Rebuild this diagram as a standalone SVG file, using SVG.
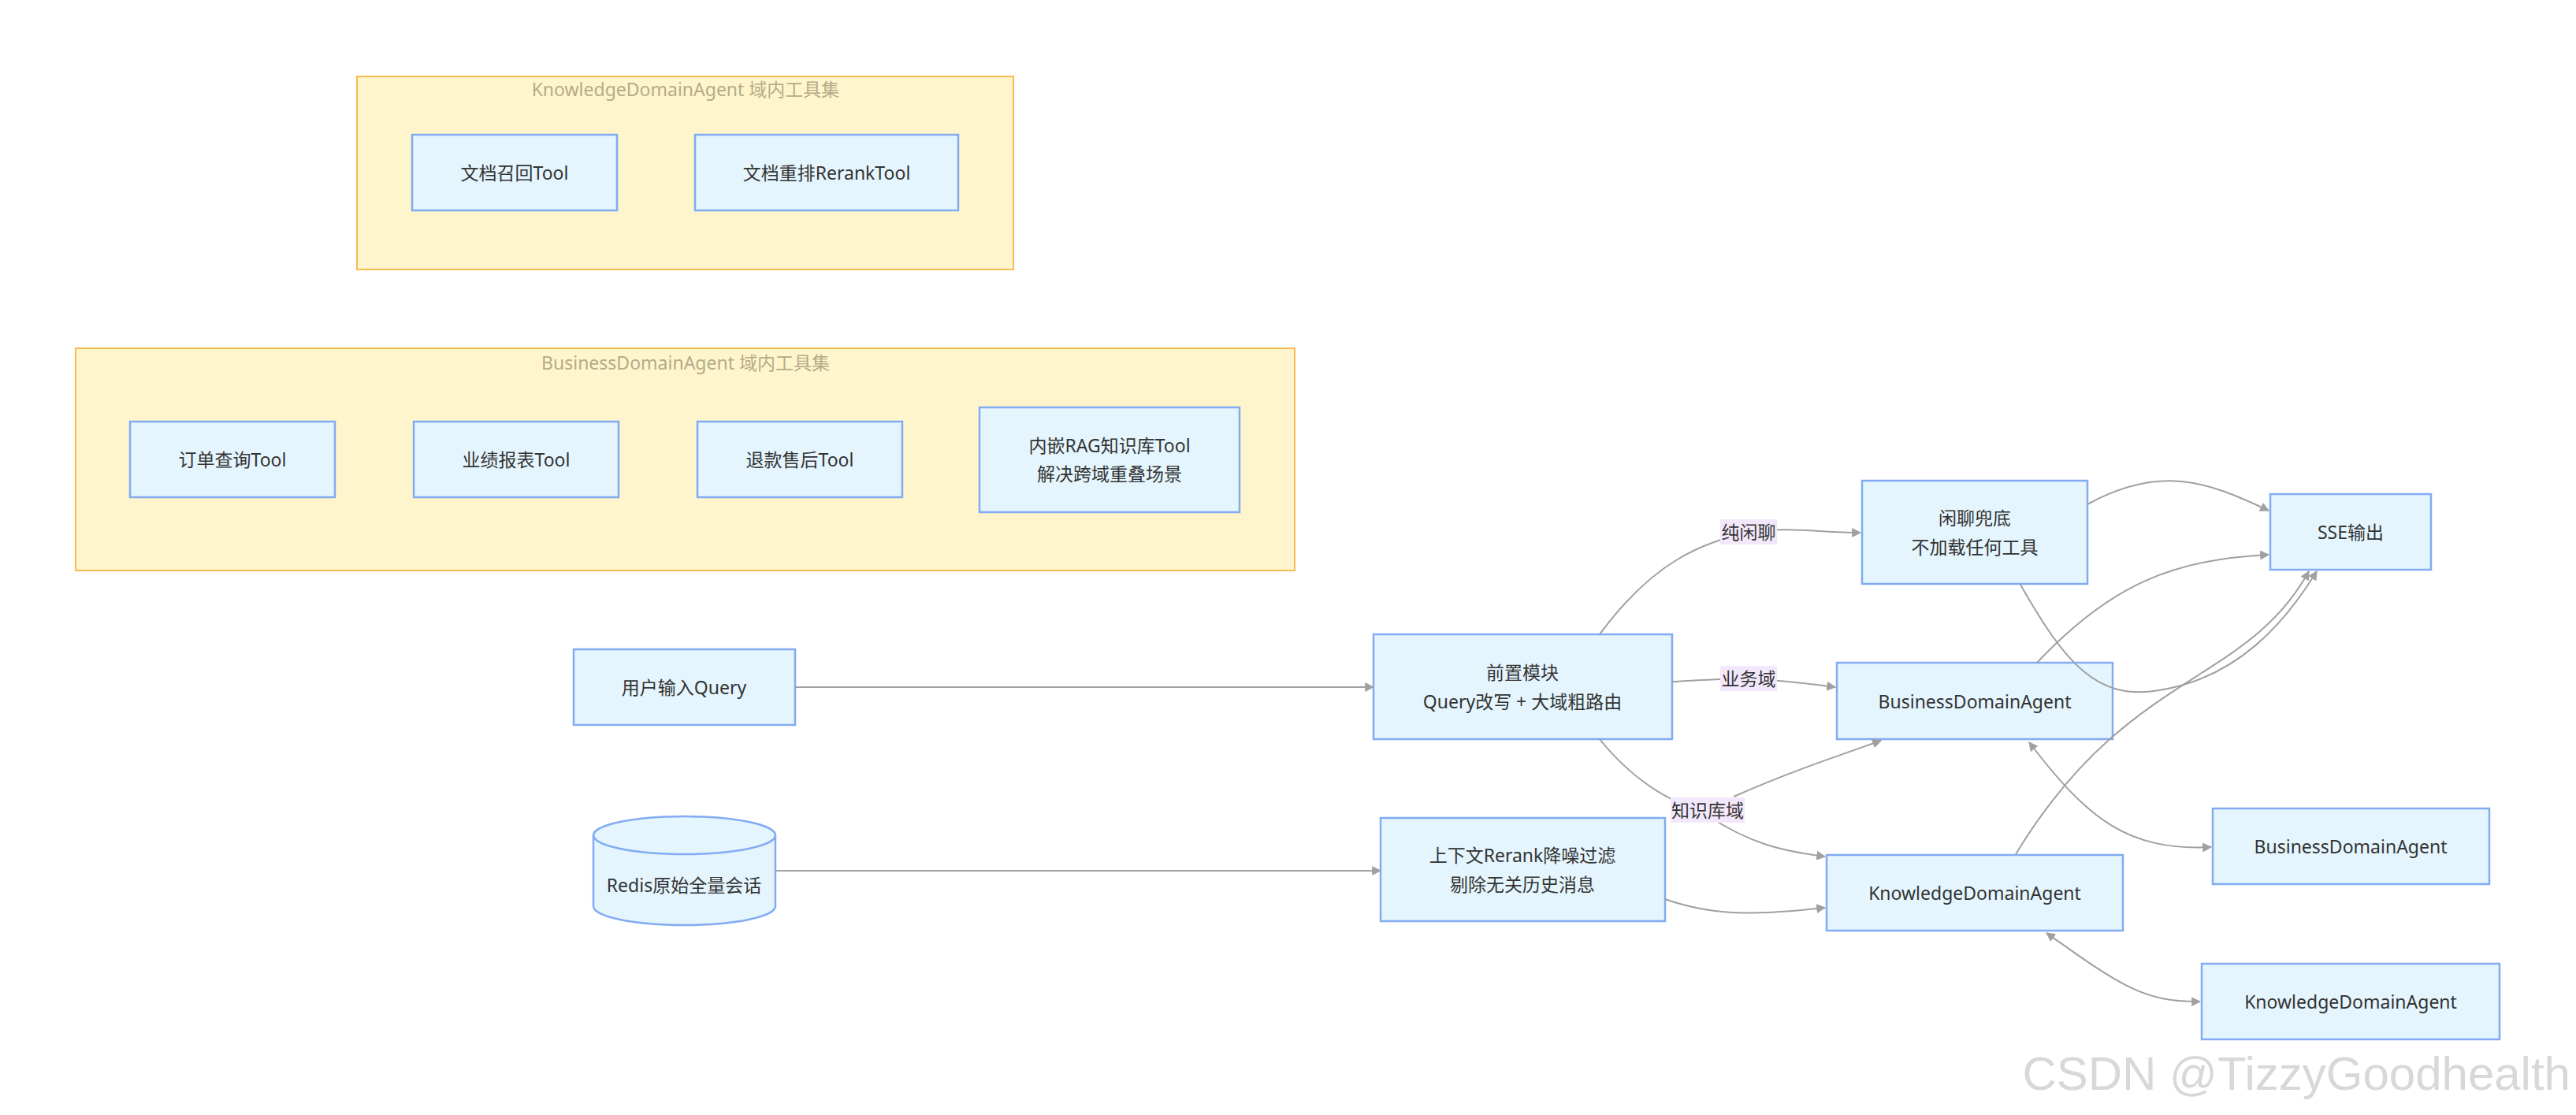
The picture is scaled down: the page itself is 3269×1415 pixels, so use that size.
<svg xmlns="http://www.w3.org/2000/svg" width="3269" height="1415" viewBox="0 0 3269 1415">
<style>
.n{fill:#e4f5fd;stroke:#82abf3;stroke-width:2.5}
.c{fill:#fff5cc;stroke:#f7bb4f;stroke-width:2}
text{font-family:"Noto Sans","Noto Sans CJK SC",sans-serif;font-size:23px;fill:#333;text-anchor:middle;dominant-baseline:central}
.ct{fill:#b5ab88}
.e{fill:none;stroke:#a0a0a0;stroke-width:2;marker-end:url(#a)}
.b{marker-start:url(#s)}
.lb{fill:#f3e8fb}
</style>
<defs>
<marker id="a" viewBox="0 0 10 10" refX="9" refY="5" markerWidth="12" markerHeight="12" markerUnits="userSpaceOnUse" orient="auto"><path d="M0,0L10,5L0,10z" fill="#a0a0a0"/></marker>
<marker id="s" viewBox="0 0 10 10" refX="1" refY="5" markerWidth="12" markerHeight="12" markerUnits="userSpaceOnUse" orient="auto"><path d="M10,0L0,5L10,10z" fill="#a0a0a0"/></marker>
</defs>
<g id="clusterK"><rect class="c" x="453" y="97" width="833" height="245"/><text class="ct" x="870" y="113">KnowledgeDomainAgent 域内工具集</text></g>
<g id="clusterB"><rect class="c" x="96" y="442" width="1547" height="282"/><text class="ct" x="870" y="460">BusinessDomainAgent 域内工具集</text></g>
<g id="t1"><rect class="n" x="523" y="171" width="260" height="96"/><text x="653" y="219">文档召回Tool</text></g>
<g id="t2"><rect class="n" x="882" y="171" width="334" height="96"/><text x="1049" y="219">文档重排RerankTool</text></g>
<g id="t3"><rect class="n" x="165" y="535" width="260" height="96"/><text x="295" y="583">订单查询Tool</text></g>
<g id="t4"><rect class="n" x="525" y="535" width="260" height="96"/><text x="655" y="583">业绩报表Tool</text></g>
<g id="t5"><rect class="n" x="885" y="535" width="260" height="96"/><text x="1015" y="583">退款售后Tool</text></g>
<g id="t6"><rect class="n" x="1243" y="517" width="330" height="133"/><text x="1408" y="565">内嵌RAG知识库Tool</text><text x="1408" y="601">解决跨域重叠场景</text></g>
<g id="user"><rect class="n" x="728" y="824" width="281" height="96"/><text x="868" y="872">用户输入Query</text></g>
<g id="redis"><path class="n" d="M753,1060 A115.5,24 0 0 1 984,1060 L984,1150 A115.5,24 0 0 1 753,1150 Z"/><path d="M753,1060 A115.5,24 0 0 0 984,1060" fill="none" stroke="#82abf3" stroke-width="2.5"/><text x="868" y="1123">Redis原始全量会话</text></g>
<g id="pre"><rect class="n" x="1743" y="805" width="379" height="133"/><text x="1932" y="853">前置模块</text><text x="1932" y="890">Query改写 + 大域粗路由</text></g>
<g id="ctx"><rect class="n" x="1752" y="1038" width="361" height="131"/><text x="1932" y="1085">上下文Rerank降噪过滤</text><text x="1932" y="1122">剔除无关历史消息</text></g>
<g id="chat"><rect class="n" x="2363" y="610" width="286" height="131"/><text x="2506" y="657">闲聊兜底</text><text x="2506" y="694">不加载任何工具</text></g>
<g id="sse"><rect class="n" x="2881" y="627" width="204" height="96"/><text x="2983" y="675">SSE输出</text></g>
<g id="bda"><rect class="n" x="2331" y="841" width="350" height="97"/><text x="2506" y="890">BusinessDomainAgent</text></g>
<g id="kda"><rect class="n" x="2318" y="1085" width="376" height="96"/><text x="2506" y="1133">KnowledgeDomainAgent</text></g>
<g id="bda2"><rect class="n" x="2808" y="1026" width="351" height="96"/><text x="2983" y="1074">BusinessDomainAgent</text></g>
<g id="kda2"><rect class="n" x="2794" y="1223" width="378" height="96"/><text x="2983" y="1271">KnowledgeDomainAgent</text></g>
<g id="edges">
<path class="e" d="M1009,872 L1743,872"/>
<path class="e" d="M984,1105 L1752,1105"/>
<path class="e" d="M2030,805 C2100,710 2160,690 2219,675 C2270,668 2310,676 2361,676"/>
<path class="e" d="M2122,865 C2160,863 2190,861 2219,861 C2260,863 2290,867 2329,872"/>
<path class="e" d="M2030,938 C2080,1000 2130,1020 2167,1035 C2220,1070 2260,1080 2316,1087"/>
<path class="e" d="M2200,1011 C2270,980 2330,960 2387,940"/>
<path class="e" d="M2113,1141 C2180,1165 2240,1160 2316,1152"/>
<path class="e" d="M2649,640 C2740,590 2800,610 2879,648"/>
<path class="e" d="M2585,841 C2680,740 2760,710 2879,704"/>
<path class="e" d="M2564,742 C2620,840 2660,890 2740,876 C2840,860 2900,790 2940,725"/>
<path class="e" d="M2558,1084 C2700,850 2850,870 2930,725"/>
<path class="e b" d="M2575,942 C2650,1040 2700,1080 2806,1075"/>
<path class="e b" d="M2597,1184 C2690,1250 2720,1272 2792,1271"/>
<rect class="lb" x="2183" y="659" width="72" height="32"/><text x="2219" y="675">纯闲聊</text>
<rect class="lb" x="2183" y="845" width="72" height="32"/><text x="2219" y="861">业务域</text>
<rect class="lb" x="2120" y="1012" width="94" height="32"/><text x="2167" y="1028">知识库域</text>
</g>
<text x="3262" y="1362" style="font-family:'Liberation Sans',sans-serif;font-size:60px;fill:#d8d8d8;text-anchor:end">CSDN @TizzyGoodhealth</text>
</svg>
